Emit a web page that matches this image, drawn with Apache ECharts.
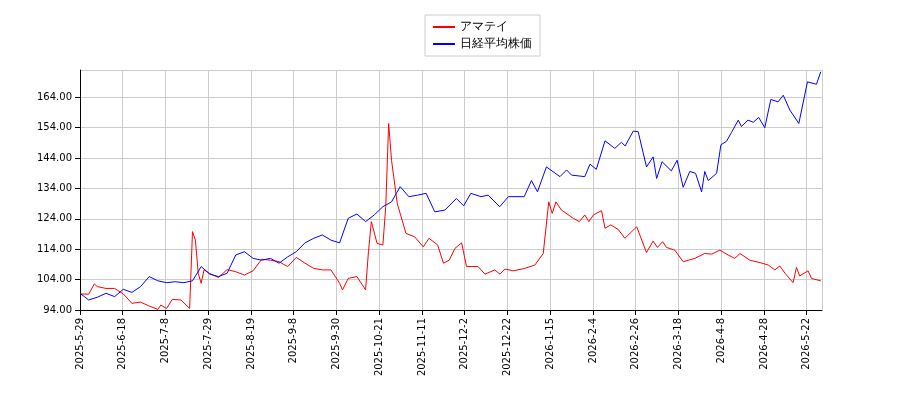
<!DOCTYPE html>
<html><head><meta charset="utf-8">
<script src="https://cdn.jsdelivr.net/npm/echarts@6/dist/echarts.min.js"></script>
<style>html,body{margin:0;padding:0;background:#fff}#c{width:900px;height:400px}</style>
</head><body><div id="c"></div>
<script>
const tickLabels = ["2025-5-29","2025-6-18","2025-7-8","2025-7-29","2025-8-19","2025-9-8","2025-9-30","2025-10-21","2025-11-11","2025-12-2","2025-12-22","2026-1-15","2026-2-4","2026-2-26","2026-3-18","2026-4-8","2026-4-28","2026-5-22"];
const seriesNames = ["アマテイ","日経平均株価"];
const redIdx = [0,3,5,6,9,12,15,18,21,24,27,28,30,32,35,38,39,40,41,42,43,45,48,51,54,57,60,63,66,69,72,75,78,81,84,87,90,91,93,96,99,100,101,103,105,106,107,108,110,113,116,119,121,124,126,128,130,132.3,134,138,140.4,143.8,145.6,147.3,150.2,154.2,157.7,160.6,162.5,163.7,165,166.9,171,173.1,175,176.4,178,180.8,182,184,186.6,188.9,193,196.4,198.7,200.2,202,203.3,206.2,209.1,213.2,216.6,219,221.8,224.7,227,228.8,232.2,235.7,238.6,240.9,242.6,244.4,247.2,248.4,249.5,252.4,253.6,256.8];
const redVal = [99.3,99.2,102.6,101.7,101.1,101.1,99.3,96.2,96.6,95.3,94.2,95.6,94.5,97.5,97.3,94.5,119.8,117,106,102.8,107.2,106,104.7,107.3,106.6,105.5,106.9,110.7,110.4,109.9,108.3,111.3,109.4,107.7,107.2,107.2,102.8,100.6,104.4,105,100.6,113.2,123.1,115.9,115.4,128,155.4,143.3,129,119.2,118.1,114.8,117.6,115.4,109.4,110.4,114.3,116.1,108.3,108.3,105.8,107.2,105.8,107.5,106.9,107.7,108.8,112.6,129.6,125.8,129.6,126.9,124.2,123.1,125.3,123.1,125.3,126.7,120.9,122,120.5,117.6,121.4,112.9,116.7,114.6,116.5,114.6,113.7,109.9,111,112.6,112.4,113.7,112.1,111,112.6,110.4,109.6,108.8,107.2,108.5,106.1,103,108,105.2,106.9,104.4,103.6];
const blueIdx = [0,3,6,9,12,15,18,21,24,27,30,33,36,39,42,45,48,51,54,57,60,63,66,69,72,75,78,81,84,87,90,93,96,99,102,105,108,111,114,117,120,123,126.5,130.5,133,135.5,139,141.5,145.5,148.5,154,156.5,158.6,161.7,166.4,168.7,170.4,175,176.8,179,182,185.4,187.7,189,191.8,193.5,196.4,198.7,199.9,201.8,205,207,209.1,211.4,213.4,215.5,216.6,217.8,220.7,222.2,224.1,225.9,228.2,229.3,231.6,233.4,235.3,237.4,239.5,242,243.8,246.1,249.2,252.2,255.3,256.8];
const blueVal = [99.5,97.3,98.2,99.5,98.4,100.8,99.8,101.7,105,103.6,103,103.3,103,103.6,108.3,105.8,105,106.1,112.1,113.2,111,110.4,111,109.4,111.5,113.2,116.1,117.6,118.7,117,116.1,124.2,125.6,123.1,125.3,128,129.6,134.6,131.3,131.8,132.4,126.3,126.9,130.7,128.3,132.4,131.3,131.8,128,131.3,131.3,136.6,132.9,141.1,137.9,140.1,138.4,137.9,142,140.3,149.7,147.2,149.2,148,152.9,152.7,141.1,144.4,137.3,142.8,139.8,143.3,134.4,139.6,139,132.9,139.6,136.6,139,148.4,149.5,152.5,156.5,154.4,156.5,155.8,157.4,154,163.3,162.5,164.7,159.8,155.4,169.1,168.3,172.4];
// indices above were read at 2.885 px per step; the trading-day step in the reference is 3.054 px
const k = 2.885/3.054;
const zip = (a,b)=>a.map((x,i)=>[+(x*k).toFixed(2),b[i]]);
const chart = echarts.init(document.getElementById('c'));
chart.setOption({
  animation:false,
  legend:{top:15,left:425,orient:'vertical',borderColor:'#ccc',borderWidth:1,padding:[6,8],itemGap:5,
    itemWidth:22,itemHeight:2,textStyle:{fontSize:12,color:'#000',fontFamily:'DejaVu Sans'},
    data:seriesNames.map(n=>({name:n,icon:'rect'}))},
  grid:{left:80,right:78,top:70,bottom:90},
  xAxis:{type:'value',min:0,max:243,interval:14,
    axisLine:{lineStyle:{color:'#000'}},axisTick:{show:true,lineStyle:{color:'#000'}},
    splitLine:{show:true,lineStyle:{color:'#ccc'}},
    axisLabel:{rotate:90,fontSize:10,color:'#000',fontFamily:'DejaVu Sans',showMaxLabel:false,
      formatter:v=>(v%14===0?tickLabels[v/14]:'')||''}},
  yAxis:{type:'value',min:94,max:173,interval:10,
    axisLine:{show:true,lineStyle:{color:'#000'}},axisTick:{show:true,lineStyle:{color:'#000'}},
    splitLine:{lineStyle:{color:'#ccc'}},
    axisLabel:{fontSize:10,color:'#000',fontFamily:'DejaVu Sans',showMaxLabel:false,formatter:v=>v.toFixed(2)}},
  series:[
    {name:seriesNames[0],type:'line',data:zip(redIdx,redVal),showSymbol:false,lineStyle:{color:'#ff0000',width:1},itemStyle:{color:'#ff0000'}},
    {name:seriesNames[1],type:'line',data:zip(blueIdx,blueVal),showSymbol:false,lineStyle:{color:'#0000ff',width:1},itemStyle:{color:'#0000ff'}}
  ]
});
</script></body></html>
